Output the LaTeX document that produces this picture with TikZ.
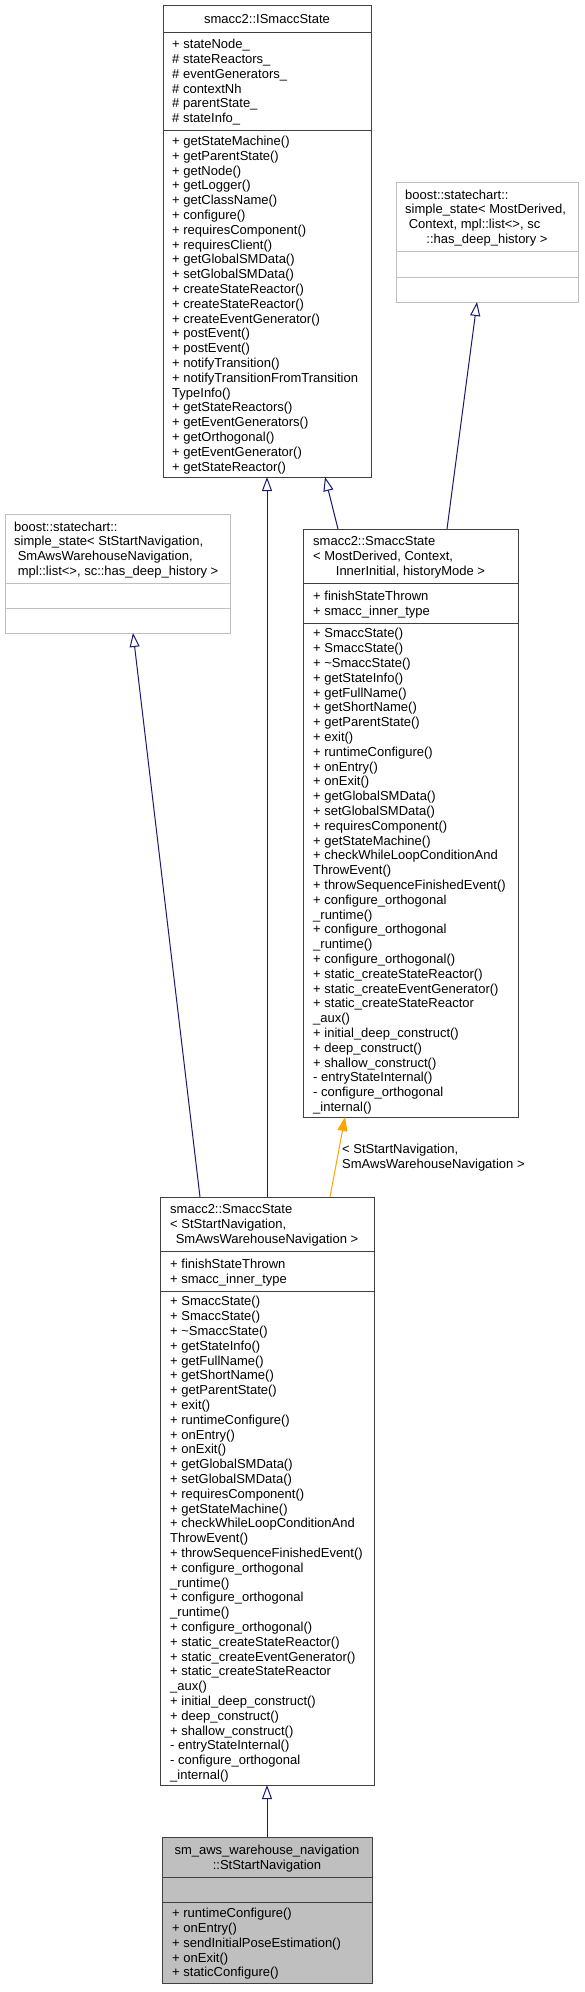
\documentclass[tikz,border=0pt]{standalone}
\usepackage{fontspec}
\setmainfont{Liberation Sans}
\usetikzlibrary{arrows.meta}
\definecolor{edgeblue}{HTML}{191970}
\definecolor{edgeorange}{HTML}{FFA500}
\definecolor{boxline}{HTML}{404040}
\definecolor{extline}{HTML}{BFBFBF}
\definecolor{mainfill}{HTML}{BFBFBF}
\newcommand\mylines[4]{%
  \foreach \t [count=\i] in {#4} {\node[txt] (#1\i) at (#2, {#3+(\i-1)*14.8}) {\t};}}
\begin{document}
\begin{tikzpicture}[x=1pt,y=-1pt,
  box/.style={draw=boxline, line width=1pt, fill=white, inner sep=0pt, outer sep=0pt},
  extbox/.style={draw=extline, line width=1pt, fill=white, inner sep=0pt, outer sep=0pt},
  mainbox/.style={draw=boxline, line width=1pt, fill=mainfill, inner sep=0pt, outer sep=0pt},
  sep/.style={draw=boxline, line width=1pt},
  extsep/.style={draw=extline, line width=1pt},
  txt/.style={anchor=base west, inner sep=0pt, font=\fontsize{13}{14.8}\selectfont},
  txtc/.style={txt, anchor=base},
  inh/.style={draw=edgeblue, line width=1pt, -{Triangle[open, length=14pt, width=10pt]}},
  tmpl/.style={draw=edgeorange, line width=1pt, -{Triangle[fill=edgeorange, length=14pt, width=10pt]}},
]
\useasboundingbox (0,0) rectangle (584,1992);

% ---- boxes
\node[box, minimum width=208pt, minimum height=472pt] (A) at (267,241) {};
\node[extbox, minimum width=182pt, minimum height=120pt] (B) at (487,242) {};
\node[extbox, minimum width=225pt, minimum height=119pt] (L) at (117.5,573.5) {};
\node[box, minimum width=215pt, minimum height=588pt] (C) at (410.5,823) {};
\node[box, minimum width=214pt, minimum height=588pt] (D) at (267,1491) {};
\node[mainbox, minimum width=210pt, minimum height=146pt] (E) at (267,1910) {};

% ---- separators
\draw[sep] (A.west |- 0,32) -- (A.east |- 0,32);
\draw[sep] (A.west |- 0,130) -- (A.east |- 0,130);
\draw[extsep] (B.west |- 0,251) -- (B.east |- 0,251);
\draw[extsep] (B.west |- 0,277) -- (B.east |- 0,277);
\draw[extsep] (L.west |- 0,583) -- (L.east |- 0,583);
\draw[extsep] (L.west |- 0,608) -- (L.east |- 0,608);
\draw[sep] (C.west |- 0,583) -- (C.east |- 0,583);
\draw[sep] (C.west |- 0,623) -- (C.east |- 0,623);
\draw[sep] (D.west |- 0,1251) -- (D.east |- 0,1251);
\draw[sep] (D.west |- 0,1291) -- (D.east |- 0,1291);
\draw[sep] (E.west |- 0,1877) -- (E.east |- 0,1877);
\draw[sep] (E.west |- 0,1902) -- (E.east |- 0,1902);

% ---- A texts
\node[txtc] (At) at (A.north |- 0,23.2) {smacc2::ISmaccState};
\mylines{Aa}{172}{48.7}{+ stateNode\_, \# stateReactors\_, \# eventGenerators\_, \# contextNh, \# parentState\_, \# stateInfo\_}
\mylines{Am}{172}{145.4}{+ getStateMachine(), + getParentState(), + getNode(), + getLogger(), + getClassName(), + configure(), + requiresComponent(), + requiresClient(), + getGlobalSMData(), + setGlobalSMData(), + createStateReactor(), + createStateReactor(), + createEventGenerator(), + postEvent(), + postEvent(), + notifyTransition(), + notifyTransitionFromTransition, TypeInfo(), + getStateReactors(), + getEventGenerators(), + getOrthogonal(), + getEventGenerator(), + getStateReactor()}

% ---- B texts
\mylines{Bt}{405}{199}{boost::statechart::, {simple\_state< MostDerived,}, {\ Context, mpl::list<>, sc}}
\node[txtc] (Bt4) at (B.north |- 0,243.4) {::has\_deep\_history >};

% ---- L texts
\mylines{Lt}{14}{531}{boost::statechart::, {simple\_state< StStartNavigation,}, {\ SmAwsWarehouseNavigation,}, {\ mpl::list<>, sc::has\_deep\_history >}}

% ---- C texts
\mylines{Ct}{313}{545.9}{smacc2::SmaccState, {< MostDerived, Context,}}
\node[txtc] (Ct3) at (C.north |- 0,575.5) {InnerInitial, historyMode >};
\mylines{Ca}{313}{600.3}{+ finishStateThrown, + smacc\_inner\_type}
\mylines{Cm}{313}{637.9}{+ SmaccState(), + SmaccState(), + \textasciitilde SmaccState(), + getStateInfo(), + getFullName(), + getShortName(), + getParentState(), + exit(), + runtimeConfigure(), + onEntry(), + onExit(), + getGlobalSMData(), + setGlobalSMData(), + requiresComponent(), + getStateMachine(), + checkWhileLoopConditionAnd, ThrowEvent(), + throwSequenceFinishedEvent(), + configure\_orthogonal, \_runtime(), + configure\_orthogonal, \_runtime(), + configure\_orthogonal(), + static\_createStateReactor(), + static\_createEventGenerator(), + static\_createStateReactor, \_aux(), + initial\_deep\_construct(), + deep\_construct(), + shallow\_construct(), - entryStateInternal(), - configure\_orthogonal, \_internal()}

% ---- D texts
\mylines{Dt}{170}{1213.9}{smacc2::SmaccState, {< StStartNavigation,}}
\node[txtc] (Dt3) at (D.north |- 0,1243.5) {SmAwsWarehouseNavigation >};
\mylines{Da}{170}{1268.3}{+ finishStateThrown, + smacc\_inner\_type}
\mylines{Dm}{170}{1305.9}{+ SmaccState(), + SmaccState(), + \textasciitilde SmaccState(), + getStateInfo(), + getFullName(), + getShortName(), + getParentState(), + exit(), + runtimeConfigure(), + onEntry(), + onExit(), + getGlobalSMData(), + setGlobalSMData(), + requiresComponent(), + getStateMachine(), + checkWhileLoopConditionAnd, ThrowEvent(), + throwSequenceFinishedEvent(), + configure\_orthogonal, \_runtime(), + configure\_orthogonal, \_runtime(), + configure\_orthogonal(), + static\_createStateReactor(), + static\_createEventGenerator(), + static\_createStateReactor, \_aux(), + initial\_deep\_construct(), + deep\_construct(), + shallow\_construct(), - entryStateInternal(), - configure\_orthogonal, \_internal()}

% ---- E texts
\node[txtc] (Et1) at (E.north |- 0,1854.3) {sm\_aws\_warehouse\_navigation};
\node[txtc] (Et2) at (E.north |- 0,1869.1) {::StStartNavigation};
\mylines{Em}{172}{1917.6}{+ runtimeConfigure(), + onEntry(), + sendInitialPoseEstimation(), + onExit(), + staticConfigure()}

% ---- connectors
\draw[inh] (D.north) -- (A.south);
\draw[inh] ([xshift=-72.5pt]C.north) -- ([xshift=58pt]A.south);
\draw[inh] ([xshift=36.5pt]C.north) -- ([xshift=-10pt]B.south);
\draw[inh] ([xshift=-67pt]D.north) -- ([xshift=15.5pt]L.south);
\draw[tmpl] ([xshift=63pt]D.north) -- ([xshift=-65.5pt]C.south);
\draw[inh] (E.north) -- (D.south);

\node[txt] (ol1) at (342,1153.5) {< StStartNavigation,};
\node[txt] (ol2) at (342,1168.3) {SmAwsWarehouseNavigation >};
\end{tikzpicture}
\end{document}
